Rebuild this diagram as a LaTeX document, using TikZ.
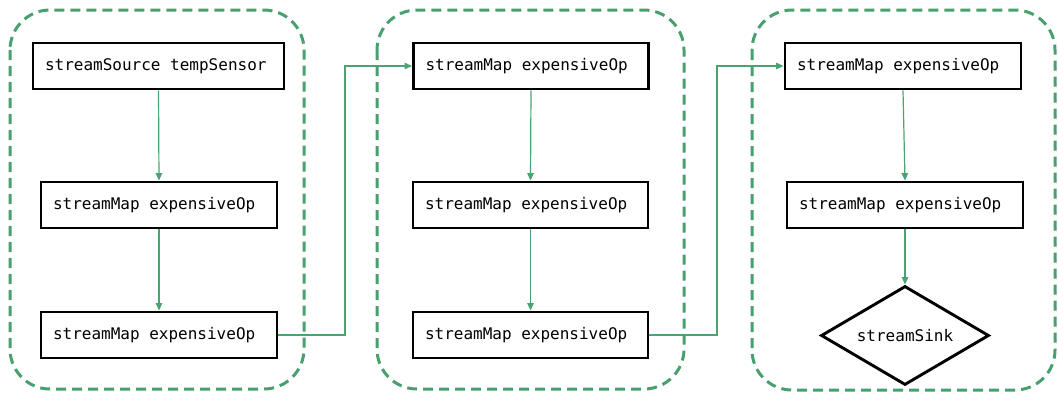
\documentclass[tikz,border=0pt]{standalone}
\usepackage{fontspec}
\newfontfamily\codefont{DejaVu Sans Mono}
\usetikzlibrary{shapes.geometric,arrows.meta}
\definecolor{flowgreen}{RGB}{74,163,112}
\definecolor{groupgreen}{RGB}{72,160,110}
\newcommand{\opsize}{\codefont\fontsize{16}{19}\selectfont}
\newcommand{\optext}[2]{\makebox[#1][l]{#2}}
\tikzset{
  opbox/.style={draw=black, line width=2.9pt, fill=white, minimum height=46pt,
    inner xsep=12pt, inner ysep=0pt, font=\opsize},
  sinkshape/.style={diamond, draw=black, line width=2.9pt, fill=white,
    minimum width=168pt, minimum height=99pt, inner sep=0pt, aspect=1.7,
    font=\opsize},
  groupbox/.style={draw=groupgreen, line width=3pt, dash pattern=on 10pt off 6pt,
    rounded corners=40pt},
  flow/.style={draw=flowgreen, line width=1.2pt,
    -{Triangle[length=7.5pt,width=6.5pt]}},
}
\begin{document}
\begin{tikzpicture}[x=1pt,y=-1pt]
\useasboundingbox (0,0) rectangle (1058,397);

% dashed group outlines
\draw[groupbox] (10,10) rectangle (304,389);
\draw[groupbox] (377,10) rectangle (684,389);
\draw[groupbox] (752,10) rectangle (1055,390);

% first group
\node[opbox] (a1) at (158.5,66) {\optext{227pt}{streamSource tempSensor}};
\node[opbox] (a2) at (159,205) {\optext{212pt}{streamMap expensiveOp}};
\node[opbox] (a3) at (159,335) {\optext{212pt}{streamMap expensiveOp}};

% second group
\node[opbox] (b1) at (531,66) {\optext{211pt}{streamMap expensiveOp}};
\node[opbox] (b2) at (530.5,205) {\optext{211pt}{streamMap expensiveOp}};
\node[opbox] (b3) at (530.5,335) {\optext{211pt}{streamMap expensiveOp}};

% third group
\node[opbox] (c1) at (903,66) {\optext{212pt}{streamMap expensiveOp}};
\node[opbox] (c2) at (905,205) {\optext{212pt}{streamMap expensiveOp}};
\node[sinkshape] (sink) at (905,335.5) {streamSink};

% bends of the links between groups
\coordinate (j1) at (345,200);
\coordinate (j2) at (717,200);

% connectors
\draw[flow] (a1.south) -- (a2.north);
\draw[flow] (a2.south) -- (a3.north);
\draw[flow] (a3.east) -| (j1) |- (b1.west);
\draw[flow] (b1.south) -- (b2.north);
\draw[flow] (b2.south) -- (b3.north);
\draw[flow] (b3.east) -| (j2) |- (c1.west);
\draw[flow] (c1.south) -- (c2.north);
\draw[flow] (c2.south) -- (sink.north);
\end{tikzpicture}
\end{document}
